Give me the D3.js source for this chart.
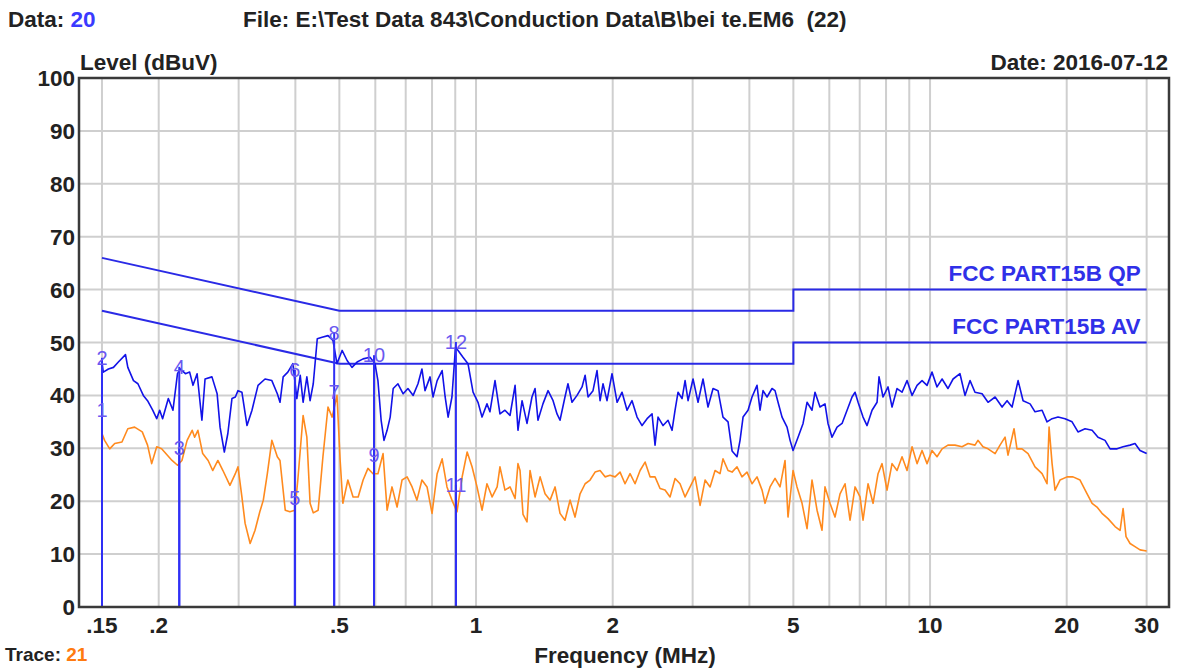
<!DOCTYPE html>
<html lang="en">
<head>
    <meta charset="UTF-8">
    <title>Conduction Data</title>
    <script src="https://d3js.org/d3.v7.min.js"></script>
    <style>
        body { margin: 0; background: #fff; }
        svg text { font-family: "Liberation Sans", Arial, sans-serif; }
    </style>
</head>
<body>
<div id="chart"></div>
<script>
    // Peak (blue) trace: [MHz, dBuV]
    const peakTrace = [
        [0.150,46.3],[0.151,44.4],[0.155,45.0],[0.159,45.3],[0.163,46.3],[0.169,47.7],[0.171,45.3],[0.176,42.8],[0.180,42.2],[0.185,40.0],
        [0.189,39.0],[0.194,37.2],[0.198,35.6],[0.201,37.2],[0.204,35.6],[0.210,39.4],[0.215,37.2],[0.220,44.1],[0.223,45.0],[0.229,44.1],
        [0.234,44.4],[0.238,41.9],[0.243,44.1],[0.249,35.3],[0.253,43.1],[0.262,43.5],[0.269,40.3],[0.273,34.0],[0.279,29.3],[0.284,32.8],
        [0.290,39.4],[0.295,39.7],[0.299,40.9],[0.305,40.6],[0.313,34.3],[0.321,37.2],[0.331,41.9],[0.343,43.1],[0.355,42.8],[0.365,40.3],
        [0.370,38.7],[0.376,43.5],[0.385,44.4],[0.395,46.0],[0.403,39.4],[0.410,43.8],[0.416,38.7],[0.424,43.5],[0.431,39.0],[0.438,42.2],
        [0.447,50.7],[0.458,51.0],[0.472,51.3],[0.484,50.4],[0.494,46.0],[0.507,48.5],[0.520,46.6],[0.533,45.3],[0.547,46.3],[0.564,46.9],
        [0.584,47.2],[0.599,46.0],[0.608,42.8],[0.618,35.3],[0.627,31.5],[0.637,33.4],[0.647,35.9],[0.657,41.3],[0.673,42.2],[0.691,40.3],
        [0.708,41.3],[0.727,40.0],[0.745,42.2],[0.760,45.0],[0.772,40.9],[0.792,43.5],[0.804,39.7],[0.821,42.8],[0.842,44.7],[0.855,39.7],
        [0.868,35.9],[0.885,39.7],[0.901,49.1],[0.913,48.5],[0.936,47.2],[0.960,46.0],[0.985,40.6],[1.010,38.7],[1.031,35.9],[1.057,38.4],
        [1.073,36.9],[1.101,42.8],[1.129,36.5],[1.158,37.2],[1.188,36.2],[1.219,41.9],[1.237,33.4],[1.263,39.0],[1.295,34.7],[1.328,39.7],
        [1.349,41.3],[1.369,35.3],[1.404,38.4],[1.441,40.9],[1.478,39.0],[1.508,36.5],[1.531,35.3],[1.570,39.7],[1.594,42.2],[1.627,38.7],
        [1.669,40.0],[1.712,41.6],[1.739,43.8],[1.765,39.7],[1.810,40.9],[1.847,44.7],[1.876,39.0],[1.904,42.2],[1.943,39.0],[1.993,44.1],
        [2.045,38.7],[2.097,40.6],[2.151,37.2],[2.206,39.0],[2.263,35.9],[2.321,34.3],[2.381,35.6],[2.442,36.5],[2.479,30.6],[2.517,35.9],
        [2.582,34.3],[2.648,35.3],[2.702,33.4],[2.744,37.2],[2.786,40.6],[2.843,39.4],[2.887,42.8],[2.931,39.0],[3.006,43.1],[3.083,38.7],
        [3.162,43.1],[3.243,37.8],[3.327,41.3],[3.412,40.9],[3.499,35.9],[3.590,35.0],[3.664,29.5],[3.757,28.4],[3.815,31.5],[3.874,35.9],
        [3.973,37.2],[4.054,39.7],[4.158,41.9],[4.222,37.2],[4.287,40.9],[4.375,39.7],[4.487,41.3],[4.556,40.9],[4.626,38.7],[4.721,35.9],
        [4.842,34.0],[4.917,31.5],[4.992,29.6],[5.120,32.1],[5.252,34.7],[5.359,38.7],[5.496,37.2],[5.580,40.6],[5.723,37.8],[5.870,38.4],
        [5.960,34.7],[6.083,32.1],[6.240,34.0],[6.400,34.7],[6.565,37.2],[6.733,39.7],[6.837,40.6],[6.942,38.7],[7.119,35.9],[7.265,34.3],
        [7.452,37.2],[7.644,38.7],[7.721,43.5],[7.879,39.7],[8.081,41.6],[8.247,37.8],[8.459,41.3],[8.676,40.6],[8.899,42.8],[9.129,40.0],
        [9.363,41.9],[9.603,42.8],[9.849,41.9],[10.10,44.4],[10.36,41.6],[10.63,43.1],[10.95,41.3],[11.24,43.1],[11.64,44.1],[11.94,40.0],
        [12.25,42.8],[12.56,40.6],[13.02,40.3],[13.42,38.7],[13.91,39.7],[14.41,37.8],[14.78,39.0],[15.16,37.8],[15.63,42.8],[16.03,39.0],
        [16.61,38.4],[17.03,36.9],[17.65,37.2],[18.10,35.0],[18.57,35.6],[19.14,35.9],[19.83,35.6],[20.55,35.0],[21.18,33.1],[21.95,33.7],
        [22.75,33.4],[23.44,32.1],[24.29,31.5],[24.92,29.9],[25.82,29.9],[26.62,30.3],[27.58,30.6],[28.28,30.9],[29.01,29.6],[30.0,29.0]
    ];

    // Average (orange) trace: [MHz, dBuV]
    const avgTrace = [
        [0.150,32.8],[0.152,31.5],[0.156,29.9],[0.160,30.9],[0.166,31.2],[0.171,33.7],[0.177,34.0],[0.184,33.1],[0.189,30.6],[0.193,27.1],
        [0.198,30.3],[0.203,29.9],[0.209,28.7],[0.214,27.7],[0.220,26.8],[0.225,27.7],[0.231,31.5],[0.237,33.4],[0.240,32.1],[0.244,33.4],
        [0.250,29.0],[0.257,27.7],[0.263,25.8],[0.270,27.7],[0.277,25.8],[0.287,23.0],[0.295,25.2],[0.299,26.5],[0.305,20.8],[0.310,15.8],
        [0.318,12.0],[0.326,14.5],[0.334,18.0],[0.340,20.2],[0.347,25.2],[0.355,31.5],[0.365,28.4],[0.370,27.7],[0.380,18.3],[0.389,18.0],
        [0.399,18.3],[0.405,24.0],[0.416,36.2],[0.424,32.1],[0.431,19.6],[0.438,17.8],[0.449,18.3],[0.460,28.4],[0.472,37.8],[0.482,35.9],
        [0.494,40.0],[0.502,27.7],[0.509,19.6],[0.522,24.0],[0.536,20.8],[0.550,20.8],[0.564,24.0],[0.578,26.2],[0.593,25.2],[0.608,25.2],
        [0.624,29.0],[0.637,18.3],[0.653,22.7],[0.670,18.9],[0.687,24.0],[0.705,24.6],[0.723,22.7],[0.741,20.2],[0.760,24.0],[0.780,22.7],
        [0.800,17.7],[0.821,25.2],[0.842,28.0],[0.863,22.7],[0.885,20.2],[0.908,18.0],[0.932,24.6],[0.956,29.3],[0.980,26.5],[1.005,22.7],
        [1.031,18.3],[1.057,23.3],[1.085,20.8],[1.113,22.7],[1.129,26.5],[1.158,22.1],[1.188,22.7],[1.219,20.5],[1.237,27.1],[1.250,25.8],
        [1.269,17.5],[1.295,16.1],[1.315,25.8],[1.349,20.8],[1.384,24.6],[1.419,21.4],[1.456,20.2],[1.493,22.7],[1.531,17.7],[1.570,16.4],
        [1.611,20.2],[1.652,17.0],[1.695,21.4],[1.739,23.3],[1.783,24.0],[1.829,25.5],[1.876,25.8],[1.924,24.6],[1.973,24.9],[2.024,24.6],
        [2.076,25.5],[2.129,23.3],[2.184,25.2],[2.240,23.3],[2.298,25.8],[2.357,27.4],[2.417,24.6],[2.479,24.6],[2.543,22.4],[2.608,22.1],
        [2.675,20.8],[2.744,24.3],[2.814,23.3],[2.887,20.8],[2.961,22.7],[3.037,24.6],[3.115,19.2],[3.195,24.0],[3.277,22.7],[3.361,25.8],
        [3.447,25.2],[3.499,28.0],[3.590,25.8],[3.664,25.5],[3.757,26.5],[3.853,24.6],[3.952,25.5],[4.054,23.3],[4.158,24.6],[4.266,22.1],
        [4.331,19.6],[4.442,22.7],[4.556,24.3],[4.673,22.7],[4.793,27.7],[4.866,17.0],[4.992,25.8],[5.093,22.7],[5.225,19.6],[5.359,14.8],
        [5.496,24.0],[5.638,18.3],[5.782,14.5],[5.870,22.7],[6.021,19.6],[6.176,17.0],[6.335,21.4],[6.498,23.3],[6.665,16.4],[6.837,22.7],
        [7.012,20.8],[7.119,16.4],[7.302,23.3],[7.490,19.6],[7.682,25.2],[7.839,27.1],[8.040,22.1],[8.247,27.1],[8.459,25.8],[8.676,28.4],
        [8.899,25.8],[9.129,30.3],[9.363,27.1],[9.603,29.6],[9.849,27.1],[10.10,29.6],[10.36,28.4],[10.63,29.9],[10.95,30.6],[11.35,30.6],
        [11.76,30.3],[12.13,30.9],[12.56,30.6],[12.75,31.5],[13.08,30.3],[13.42,29.9],[13.91,29.0],[14.26,30.6],[14.63,32.1],[14.85,28.7],
        [15.31,33.7],[15.54,29.9],[15.94,29.9],[16.44,29.0],[17.03,26.5],[17.65,25.2],[18.10,23.3],[18.29,34.0],[18.57,27.1],[18.85,22.1],
        [19.33,24.0],[20.04,24.6],[20.65,24.6],[21.40,24.0],[22.18,21.4],[22.75,19.6],[23.32,18.9],[23.92,17.7],[24.66,16.7],[25.56,15.2],
        [26.22,14.5],[26.62,18.6],[27.02,13.3],[27.58,12.0],[28.28,11.4],[29.01,10.8],[30.0,10.6]
    ];

    // FCC Part 15B limit lines
    const qpLimit = [[0.15,66],[0.5,56],[5,56],[5,60],[30,60]];
    const avLimit = [[0.15,56],[0.5,46],[5,46],[5,50],[30,50]];

    // Markers
    const markerNo = [1,2,3,4,5,6,7,8,9,10,11,12];
    const markerFreq = [0.15,0.15,0.222,0.222,0.399,0.399,0.487,0.487,0.596,0.596,0.903,0.903];
    const markerLevel = [37.2,47.1,30.1,45.4,20.6,44.8,40.6,51.8,28.7,47.6,23.1,50.1];

    // Axes
    const xTicks = [0.15,0.2,0.5,1,2,5,10,20,30];
    const xTickLabels = ['.15','.2','.5','1','2','5','10','20','30'];
    const xGrid = [0.15,0.2,0.3,0.4,0.5,0.6,0.7,0.8,0.9,1,2,3,4,5,6,7,8,9,10,20,30];
    const yTicks = [0,10,20,30,40,50,60,70,80,90,100];

    const width = 1180, height = 669;
    const plot = { left: 79, top: 78, right: 1169, bottom: 607 };
    const fontSize = '22.5px';

    const svg = d3.select('#chart').append('svg')
        .attr('width', width)
        .attr('height', height);

    const x = d3.scaleLog().domain([0.1335, 33.6]).range([plot.left, plot.right]);
    const y = d3.scaleLinear().domain([0, 100]).range([plot.bottom, plot.top]);

    // grid
    svg.append('g').selectAll('line.vg')
        .data(xGrid).enter().append('line')
        .attr('x1', d => x(d)).attr('x2', d => x(d))
        .attr('y1', plot.top).attr('y2', plot.bottom)
        .attr('stroke', '#cfcfcf').attr('stroke-width', 2);

    svg.append('g').selectAll('line.hg')
        .data(yTicks.slice(1, -1)).enter().append('line')
        .attr('x1', plot.left).attr('x2', plot.right)
        .attr('y1', d => y(d)).attr('y2', d => y(d))
        .attr('stroke', '#cfcfcf').attr('stroke-width', 2);

    // limit lines
    const line = d3.line().x(d => x(d[0])).y(d => y(d[1]));
    [qpLimit, avLimit].forEach(lim => {
        svg.append('path').datum(lim)
            .attr('d', line)
            .attr('fill', 'none')
            .attr('stroke', '#2a2ae6')
            .attr('stroke-width', 2);
    });

    svg.append('text')
        .attr('x', x(30) - 6).attr('y', y(60) - 9)
        .attr('text-anchor', 'end')
        .attr('fill', '#3030e8')
        .style('font-size', fontSize).style('font-weight', 'bold')
        .text('FCC PART15B QP');
    svg.append('text')
        .attr('x', x(30) - 6).attr('y', y(50) - 9)
        .attr('text-anchor', 'end')
        .attr('fill', '#3030e8')
        .style('font-size', fontSize).style('font-weight', 'bold')
        .text('FCC PART15B AV');

    // traces
    svg.append('path').datum(avgTrace)
        .attr('d', line)
        .attr('fill', 'none')
        .attr('stroke', '#ff8a1e')
        .attr('stroke-width', 1.6)
        .attr('stroke-linejoin', 'round');

    svg.append('path').datum(peakTrace)
        .attr('d', line)
        .attr('fill', 'none')
        .attr('stroke', '#1212e8')
        .attr('stroke-width', 1.6)
        .attr('stroke-linejoin', 'round');

    // markers
    const markers = markerNo.map((n, i) => ({ n: n, f: markerFreq[i], v: markerLevel[i] }));
    svg.append('g').selectAll('line')
        .data(markers).enter().append('line')
        .attr('x1', d => x(d.f)).attr('x2', d => x(d.f))
        .attr('y1', y(0)).attr('y2', d => y(d.v))
        .attr('stroke', '#2f2ff5').attr('stroke-width', 2);

    svg.append('g').selectAll('text')
        .data(markers).enter().append('text')
        .attr('x', d => x(d.f))
        .attr('y', d => y(d.v) + 7)
        .attr('text-anchor', 'middle')
        .attr('fill', '#6a58f0')
        .style('font-size', '20px')
        .text(d => d.n);

    // frame
    svg.append('rect')
        .attr('x', plot.left).attr('y', plot.top)
        .attr('width', plot.right - plot.left)
        .attr('height', plot.bottom - plot.top)
        .attr('fill', 'none')
        .attr('stroke', '#3a3a3a')
        .attr('stroke-width', 2.5);

    // tick labels
    svg.append('g').selectAll('text')
        .data(yTicks).enter().append('text')
        .attr('x', plot.left - 4)
        .attr('y', d => y(d) + 8)
        .attr('text-anchor', 'end')
        .attr('fill', '#222')
        .style('font-size', fontSize).style('font-weight', 'bold')
        .text(d => d);

    svg.append('g').selectAll('text')
        .data(xTicks).enter().append('text')
        .attr('x', d => x(d))
        .attr('y', plot.bottom + 26)
        .attr('text-anchor', 'middle')
        .attr('fill', '#222')
        .style('font-size', fontSize).style('font-weight', 'bold')
        .text((d, i) => xTickLabels[i]);

    // titles
    const header = svg.append('text').attr('x', 8).attr('y', 27)
        .attr('fill', '#222').style('font-size', fontSize).style('font-weight', 'bold');
    header.append('tspan').text('Data: ');
    header.append('tspan').attr('fill', '#3a3aff').text('20');

    svg.append('text').attr('x', 243).attr('y', 27)
        .attr('fill', '#222').style('font-size', fontSize).style('font-weight', 'bold')
        .attr('xml:space', 'preserve')
        .text('File: E:\\Test Data 843\\Conduction Data\\B\\bei te.EM6  (22)');

    svg.append('text').attr('x', plot.left + 1).attr('y', 70)
        .attr('fill', '#222').style('font-size', fontSize).style('font-weight', 'bold')
        .text('Level (dBuV)');

    svg.append('text').attr('x', 1168).attr('y', 70)
        .attr('text-anchor', 'end')
        .attr('fill', '#222').style('font-size', fontSize).style('font-weight', 'bold')
        .text('Date: 2016-07-12');

    svg.append('text').attr('x', 625).attr('y', 663)
        .attr('text-anchor', 'middle')
        .attr('fill', '#222').style('font-size', fontSize).style('font-weight', 'bold')
        .text('Frequency (MHz)');

    const trace = svg.append('text').attr('x', 5).attr('y', 661)
        .attr('fill', '#222').style('font-size', '19px').style('font-weight', 'bold');
    trace.append('tspan').text('Trace: ');
    trace.append('tspan').attr('fill', '#ff7a10').text('21');
</script>
</body>
</html>
